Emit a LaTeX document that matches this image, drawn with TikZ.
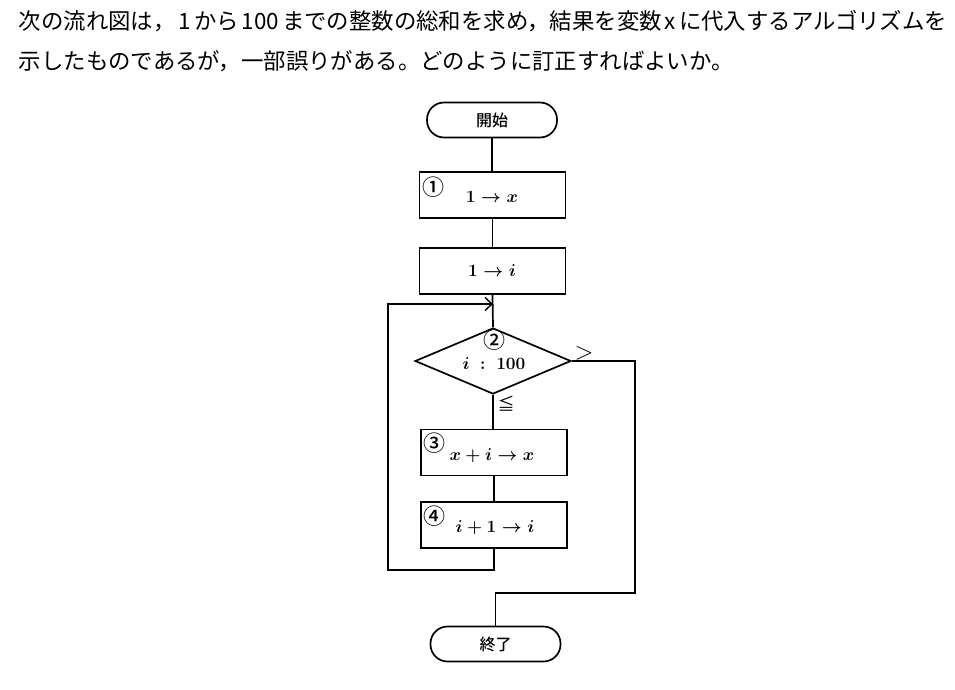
\documentclass[tikz,border=0pt]{standalone}
\usepackage{fontspec}
\newfontfamily\jpfont{Noto Sans CJK JP}
\newfontfamily\jpbold{Noto Sans CJK JP Medium}
\usetikzlibrary{shapes.geometric,arrows.meta}
\begin{document}
\begin{tikzpicture}[x=1pt,y=-1pt,
  line width=1.7pt,
  proc/.style={draw,rectangle,minimum width=146pt,minimum height=46pt,inner sep=0pt},
  term/.style={draw,rectangle,rounded corners=17pt,minimum width=130pt,minimum height=35pt,inner sep=0pt,font=\jpbold\fontsize{16}{16}\selectfont},
  dec/.style={draw,diamond,minimum width=156pt,minimum height=66pt,inner sep=0pt},
  lbl/.style={font=\fontsize{17}{17}\selectfont\boldmath,inner sep=0pt},
  num/.style={font=\jpbold\fontsize{22}{22}\selectfont,inner sep=0pt},
  title/.style={anchor=west,inner sep=0pt,font=\jpfont\fontsize{22.4}{23}\selectfont}]
\useasboundingbox (0,0) rectangle (955,690);
\node[title] (t1) at (18,21) {次の流れ図は，\kern3pt 1\kern3pt から\kern3pt 100\kern3pt までの整数の総和を求め，結果を変数\kern3pt x\kern3pt に代入するアルゴリズムを};
\node[title] (t2) at (18,61) {示したものであるが，一部誤りがある。どのように訂正すればよいか。};
% nodes
\node[term] (start) at (492,120) {開始};
\node[proc] (b1) at (492.5,195) {};
\node[lbl] (b1t) at (492,197) {$1 \to x$};
\node[num] (n1) at (433,187) {①};
\node[proc] (b2) at (492.5,271) {};
\node[lbl] (b2t) at (492,271) {$1 \to i$};
\node[dec] (d) at (493,361) {};
\node[num] (n2) at (494,340) {②};
\node[lbl] (dt) at (494,364) {$i\ :\ 100$};
\node[proc] (b3) at (494,452.5) {};
\node[num] (n3) at (434,443) {③};
\node[lbl] (b3t) at (492,456) {$x + i \to x$};
\node[proc] (b4) at (494,525) {};
\node[num] (n4) at (434,516) {④};
\node[lbl] (b4t) at (495,528) {$i + 1 \to i$};
\node[term] (end) at (495.5,644) {終了};
\node[font=\fontsize{30}{30}\selectfont,inner sep=0pt] (gt) at (584,353) {$>$};
\node[font=\fontsize{17}{17}\selectfont\jpfont,inner sep=0pt] (le) at (506,404) {≦};
% coordinates
\coordinate (j) at (493,304);
\coordinate (lb) at (388,570);
\coordinate (r1) at (635,361);
\coordinate (r2) at (635,593);
% connectors
\draw (start.south) -- (start.south |- b1.north);
\draw (b1.south) -- (b1.south |- b2.north);
\draw (b2.south) -- (d.north);
\draw (d.south) -- (d.south |- b3.north);
\draw (b3.south) -- (b3.south |- b4.north);
\draw[-{Straight Barb[length=7pt,width=13pt,line width=1.4pt]}] (b4.south) |- (lb) |- (j);
\draw (d.east) -- (r1) -- (r2) -| (end.north);
\end{tikzpicture}
\end{document}
